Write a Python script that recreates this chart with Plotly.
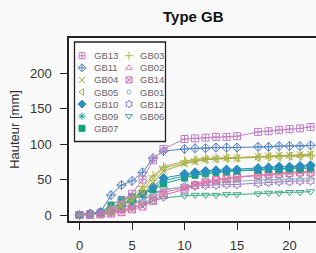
import plotly.graph_objects as go

days = [0, 1, 2, 3, 4, 5, 6, 7, 8, 10, 11, 12, 13, 14, 15, 17, 18, 19, 20, 21, 22]

series_names = ["GB13", "GB03", "GB11", "GB02", "GB04", "GB14", "GB05",
                "GB01", "GB10", "GB12", "GB09", "GB06", "GB07"]

GB13 = [0, 1, 2, 8, 20, 30, 50, 77, 93, 107, 108, 109, 110, 110, 111, 117, 118, 120, 121, 122, 124]
GB11 = [0, 2, 4, 28, 42, 48, 60, 80, 90, 93, 94, 94, 95, 95, 95, 96, 96, 97, 97, 97, 98]
GB03 = [0, 1, 2, 10, 18, 26, 40, 55, 68, 76, 78, 80, 80, 81, 81, 82, 82, 83, 83, 83, 84]
GB04 = [0, 1, 2, 5, 12, 20, 30, 45, 62, 72, 75, 78, 79, 80, 80, 82, 83, 84, 84, 85, 86]
GB05 = [0, 1, 3, 6, 14, 22, 35, 52, 66, 74, 77, 78, 79, 80, 80, 81, 82, 82, 83, 83, 84]
GB10 = [0, 2, 3, 8, 14, 20, 30, 40, 52, 58, 60, 62, 63, 64, 64, 66, 67, 68, 68, 69, 70]
GB09 = [0, 1, 3, 10, 16, 22, 28, 38, 48, 55, 58, 60, 61, 62, 63, 64, 65, 65, 66, 67, 68]
GB07 = [0, 2, 4, 14, 22, 26, 30, 36, 44, 52, 56, 58, 60, 61, 62, 63, 64, 64, 65, 65, 66]
GB02 = [0, 1, 0, 3, 6, 10, 16, 24, 32, 38, 44, 48, 50, 52, 54, 56, 58, 59, 60, 61, 62]
GB14 = [0, 0, 1, 2, 4, 8, 12, 20, 28, 36, 42, 46, 49, 51, 53, 56, 57, 58, 59, 60, 60]
GB01 = [0, 1, 2, 4, 8, 14, 20, 28, 35, 40, 43, 45, 46, 47, 48, 49, 50, 50, 51, 51, 52]
GB12 = [0, 1, 2, 4, 10, 15, 22, 30, 36, 40, 41, 42, 42, 43, 43, 45, 46, 47, 47, 48, 48]
GB06 = [0, 1, 1, 3, 6, 10, 15, 20, 24, 27, 28, 28, 28, 29, 29, 30, 31, 31, 32, 32, 33]

values = {"GB13": GB13, "GB11": GB11, "GB03": GB03, "GB04": GB04, "GB05": GB05,
          "GB10": GB10, "GB09": GB09, "GB07": GB07, "GB02": GB02, "GB14": GB14,
          "GB01": GB01, "GB12": GB12, "GB06": GB06}

y_ticks = [0, 50, 100, 150, 200]
x_ticks = [0, 5, 10, 15, 20]

styles = {
    "GB13": ("#c27ec6", "square-cross-open", 7),
    "GB11": ("#5482c2", "diamond-cross-open", 7),
    "GB04": ("#a8a83c", "x-thin-open", 7),
    "GB05": ("#9cb444", "triangle-left-open", 7),
    "GB10": ("#2a8ec0", "diamond-cross", 7),
    "GB09": ("#1ea3a3", "asterisk-open", 7),
    "GB07": ("#12a27a", "square", 6),
    "GB03": ("#b4b450", "cross-thin-open", 7),
    "GB02": ("#de7ca6", "triangle-up-open", 7),
    "GB14": ("#d068b4", "square-x-open", 7),
    "GB01": ("#8cb8b0", "circle-open", 4),
    "GB12": ("#9c7cc6", "hexagram-open", 7),
    "GB06": ("#3ea886", "triangle-down-open", 7),
}

draw_order = ["GB06", "GB12", "GB01", "GB14", "GB02", "GB07", "GB09", "GB10",
              "GB05", "GB04", "GB03", "GB11", "GB13"]

FONT = "Liberation Sans, Arial"

fig = go.Figure()
for name in draw_order:
    col, sym, sz = styles[name]
    fig.add_trace(go.Scatter(
        x=days, y=values[name], mode="lines+markers", name=name,
        line=dict(color=col, width=1),
        marker=dict(symbol=sym, size=sz, color=col, line=dict(color=col, width=1)),
        showlegend=False))

# manual legend (pixel-based overlay axes)
col1 = ["GB13", "GB11", "GB04", "GB05", "GB10", "GB09", "GB07"]
col2 = ["GB03", "GB02", "GB14", "GB01", "GB12", "GB06"]
row_y = [55.7, 67.8, 79.9, 92.0, 104.1, 116.2, 128.3]
annotations = []
for cx, tx, names in [(82, 91.5, col1), (129, 137.5, col2)]:
    for i, name in enumerate(names):
        col, sym, sz = styles[name]
        fig.add_trace(go.Scatter(
            x=[cx], y=[row_y[i]], xaxis="x2", yaxis="y2", mode="markers",
            marker=dict(symbol=sym, size=6 if sz > 5 else 4, color=col,
                        line=dict(color=col, width=1)),
            showlegend=False, hoverinfo="skip"))
        annotations.append(dict(x=tx, y=row_y[i], xref="x2", yref="y2", text=name,
                                showarrow=False, xanchor="left", yanchor="middle",
                                font=dict(family=FONT, size=9.5, color="#666666")))

# title (paper coordinates, plot area spans x 69..316 px, y 38..221 px)
annotations.append(dict(x=(193.5 - 69) / 247, y=(221 - 16) / 183, xref="paper", yref="paper",
                        text="<b>Type GB</b>", showarrow=False, xanchor="center", yanchor="middle",
                        font=dict(family=FONT, size=15, color="#111111")))

fig.update_layout(
    width=316, height=253,
    margin=dict(l=69, r=0, t=38, b=32, autoexpand=False),
    paper_bgcolor="#fafafa", plot_bgcolor="#fafafa",
    showlegend=False,
    xaxis=dict(range=[-1.0, 22.52], tickvals=x_ticks, ticks="outside", ticklen=7,
               tickcolor="#222", showline=True, linecolor="#222", linewidth=1.5, mirror=True,
               showgrid=False, zeroline=False, ticklabelstandoff=5, automargin=False,
               tickfont=dict(family=FONT, size=13, color="#333")),
    yaxis=dict(range=[-8.45, 249.3], tickvals=y_ticks, ticks="outside", ticklen=7,
               tickcolor="#222", showline=True, linecolor="#222", linewidth=1.5,
               showgrid=False, zeroline=False, ticklabelstandoff=6, automargin=False,
               title=dict(text="Hauteur [mm]", standoff=7,
                          font=dict(family=FONT, size=13, color="#333")),
               tickfont=dict(family=FONT, size=13, color="#333")),
    xaxis2=dict(range=[69, 316], overlaying="x", visible=False, fixedrange=True),
    yaxis2=dict(range=[221, 38], overlaying="y", visible=False, fixedrange=True),
    annotations=annotations,
    shapes=[dict(type="rect", xref="x2", yref="y2", x0=74.5, x1=165.5, y0=42, y1=141.5,
                 line=dict(color="#222", width=1.3), fillcolor="#fcfcfc", layer="below")],
)

fig.write_html("out.html", config={"displayModeBar": False},
               post_script="document.body.style.margin='0';document.body.style.background='#fafafa';")
